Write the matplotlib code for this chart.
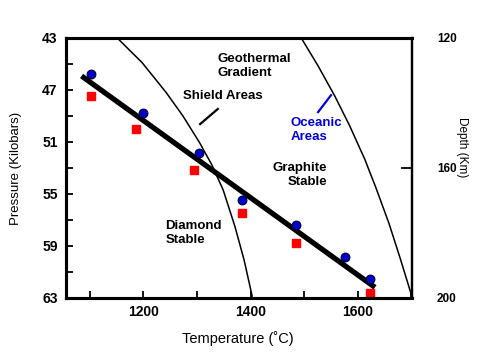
import matplotlib
matplotlib.use("Agg")
import matplotlib.pyplot as plt

plt.rcParams['font.family'] = ['Liberation Sans', 'DejaVu Sans']
plt.rcParams['font.weight'] = 'bold'

# data
blue_t = [1102, 1199, 1304, 1385, 1485, 1576, 1622]
blue_p = [45.77, 48.8, 51.82, 55.46, 57.41, 59.87, 61.54]
red_t = [1102, 1187, 1295, 1385, 1484, 1622]
red_p = [47.44, 49.97, 53.13, 56.44, 58.74, 62.64]

# diamond / graphite boundary (thick line)
fit_t = [1085, 1632]
fit_p = [45.92, 62.18]

# geotherm, shield areas
shield_t = [1154, 1198, 1243, 1274, 1305, 1328, 1349, 1371, 1388, 1403]
shield_p = [43.1, 44.9, 47.21, 49.0, 51.05, 52.77, 54.69, 57.51, 60.08, 62.85]

# geotherm, oceanic areas
ocean_t = [1496, 1526, 1557, 1585, 1613, 1633, 1658, 1680, 1699]
ocean_p = [43.1, 45.15, 47.46, 49.77, 52.33, 54.44, 57.25, 60.08, 62.64]

# short leader lines
shield_ptr = ([1339, 1306], [48.46, 49.62])
ocean_ptr = ([1550, 1526], [47.4, 48.7])

p_ticks = [43, 47, 51, 55, 59, 63]
t_ticks = [1200, 1400, 1600]
depth_ticks = [120, 160, 200]

fig = plt.figure(figsize=(4.83, 3.57), dpi=100)
ax = fig.add_axes([66 / 483, 59 / 357, 346 / 483, 260 / 357])

ax.plot(shield_t, shield_p, color='k', lw=1.1)
ax.plot(ocean_t, ocean_p, color='k', lw=1.1)
ax.plot(fit_t, fit_p, color='k', lw=3.8, solid_capstyle='butt')
ax.plot(*shield_ptr, color='k', lw=1.6)
ax.plot(*ocean_ptr, color='#0000d0', lw=1.6)

ax.plot(blue_t, blue_p, 'o', ms=6.3, mfc='#0000cc', mec='#000033', mew=0.8, ls='none')
ax.plot(red_t, red_p, 's', ms=5.2, mfc='#ff0000', mec='#ff0000', ls='none')

fs = 9.5
ax.text(1339, 45.15, 'Geothermal\nGradient', fontsize=fs, va='center', ha='left', linespacing=1.2)
ax.text(1274, 47.5, 'Shield Areas', fontsize=fs, va='center', ha='left')
ax.text(1475, 50.08, 'Oceanic\nAreas', fontsize=fs, va='center', ha='left', color='#0000d0', linespacing=1.2)
ax.text(1441, 53.0, 'Graphite', fontsize=fs, va='center', ha='left')
ax.text(1470, 54.05, 'Stable', fontsize=fs, va='center', ha='left')
ax.text(1241, 57.98, 'Diamond\nStable', fontsize=fs, va='center', ha='left', linespacing=1.2)

ax.set_xlim(1056, 1701)
ax.set_ylim(63, 43)
ax.set_yticks(p_ticks)
ax.set_yticks(range(45, 63, 4), minor=True)
ax.set_xticks(t_ticks)
ax.set_xticks([1100, 1300, 1500, 1700], minor=True)
ax.tick_params(which='both', direction='in', length=5, width=1.3, labelsize=10, pad=6)
ax.tick_params(axis='x', pad=5)

ax.set_ylabel('Pressure (Kilobars)', fontsize=9.5)
ax.yaxis.set_label_coords(-0.126, 0.5)
ax.set_xlabel('Temperature (˚C)', fontsize=10.5)
ax.xaxis.set_label_coords(0.497, -0.126)

ax2 = ax.twinx()
ax2.set_ylim(200, 120)
ax2.set_yticks(depth_ticks)
ax2.tick_params(direction='in', length=8, width=1.3, labelsize=8.5, pad=18)
ax2.set_ylabel('Depth (Km)', fontsize=8.5, rotation=270)
ax2.yaxis.set_label_coords(1.162, 0.58)

for a in (ax, ax2):
    for s in a.spines.values():
        s.set_linewidth(2.2)
    a.spines['right'].set_linewidth(1.6)

fig.savefig('out.png', dpi=100)
